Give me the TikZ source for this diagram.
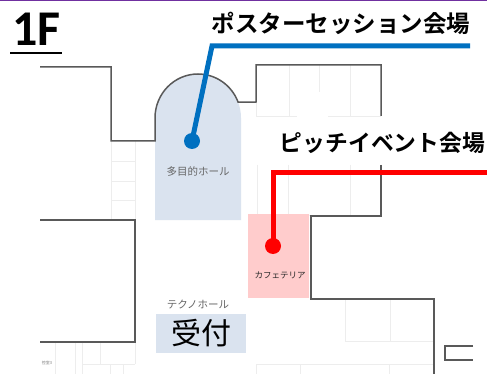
\documentclass[tikz,border=0pt]{standalone}
\usepackage{fontspec}
\setmainfont{Noto Sans CJK JP}
\newfontfamily\jpb{Noto Sans CJK JP Bold}
\newfontfamily\latb{Carlito Bold}
\definecolor{wall}{HTML}{595959}
\definecolor{grid}{HTML}{EDEDED}
\definecolor{hall}{HTML}{DAE3EF}
\definecolor{pinkroom}{HTML}{FFCCCC}
\definecolor{bluel}{HTML}{0070C0}
\definecolor{purp}{HTML}{7030A0}
\tikzset{
  x=1pt,y=-1pt,
  wallline/.style={draw=wall,line width=1.5pt},
  gridline/.style={draw=grid,line width=0.8pt},
  title/.style={font=\jpb\fontsize{23.5}{23.5}\selectfont,inner sep=0pt,anchor=center},
  roomlabel/.style={font=\fontsize{10.5}{11}\selectfont,text=black!60,inner sep=0pt},
  lead/.style={line width=5pt,miter limit=10},
  dotb/.style={circle,fill=bluel,minimum size=16pt,inner sep=0pt},
  dotr/.style={circle,fill=red,minimum size=16pt,inner sep=0pt}
}
\begin{document}
\begin{tikzpicture}
\useasboundingbox (0,0) rectangle (487,374);
\fill[white] (0,0) rectangle (487,374);
\fill[purp] (0,0) rectangle (487,1);
% light grid
\draw[gridline] (111,141)--(111,220) (135,141)--(135,220) (111,161)--(135,161) (111,181)--(135,181) (111,200)--(135,200);
\draw[gridline] (289,65)--(289,116) (319,65)--(319,92) (350,65)--(350,116) (256,102)--(256,116) (256,116)--(297,116) (328,116)--(381,116);
\draw[gridline] (257,165)--(257,215) (288,165)--(288,215) (350,165)--(350,215) (257,215)--(311,215);
\draw[gridline] (345,299)--(345,341) (390,299)--(390,341) (345,341)--(434,341);
\draw[gridline] (256,364)--(434,364) (256,364)--(256,374) (300,364)--(300,374) (389,364)--(389,374);
\draw[gridline] (55,342)--(55,374) (75,342)--(75,374) (82,342)--(82,374) (100,342)--(100,364) (82,364)--(135,364) (135,342)--(135,364) (110,364)--(110,374) (123,364)--(123,374);
% rooms
\path[fill=hall] (155,220) -- (155,118) arc[start angle=180,end angle=360,x radius=43,y radius=44] -- (241,220) -- cycle;
\node[fill=pinkroom,minimum width=61pt,minimum height=84pt,inner sep=0pt] (cafe) at (278.5,256) {};
\node[fill=hall,minimum width=90pt,minimum height=39pt,inner sep=0pt,font=\fontsize{30}{30}\selectfont] (recep) at (201,333.5) {受付};
% walls
\draw[wallline] (40,67)--(111,67)--(111,141)--(155,141)--(155,118) arc[start angle=180,end angle=339,x radius=43,y radius=44] --(256,102)--(256,65)--(381,65)--(381,116);
\draw[wallline] (381,165)--(381,216)--(311,216)--(311,299)--(434,299)--(434,374);
\draw[wallline] (40,220)--(135,220)--(135,342)--(40,342);
\draw[wallline] (473,346)--(445,346)--(445,360)--(473,360);
% labels
\node[roomlabel] (hallname) at (198,171) {多目的ホール};
\node[roomlabel] (techno) at (198,305) {テクノホール};
\node[roomlabel,text=black!85,font=\fontsize{8.5}{9}\selectfont] (cafename) at (280,275) {カフェテリア};
\node[font=\fontsize{4}{4}\selectfont,text=black!50,inner sep=0pt] (smallname) at (47,363) {控室3};
% titles
\node[font=\latb\fontsize{50}{50}\selectfont,inner sep=0pt,anchor=base west] (floor) at (12,46) {1F};
\draw[black,line width=2pt] (10,53) -- (62,53);
\node[title] (poster) at (341,23) {ポスターセッション会場};
\node[title,font=\jpb\fontsize{22.8}{23}\selectfont] (pitch) at (382.5,143) {ピッチイベント会場};
% leaders
\node[dotb] (bd) at (192,141) {};
\node[dotr] (rd) at (273,246) {};
\coordinate (be) at (470,46);
\coordinate (re) at (487,173);
\draw[bluel,lead] (be)--(212,46)--(bd.center);
\draw[red,lead] (re)--(273,173)--(rd.center);
\end{tikzpicture}
\end{document}
